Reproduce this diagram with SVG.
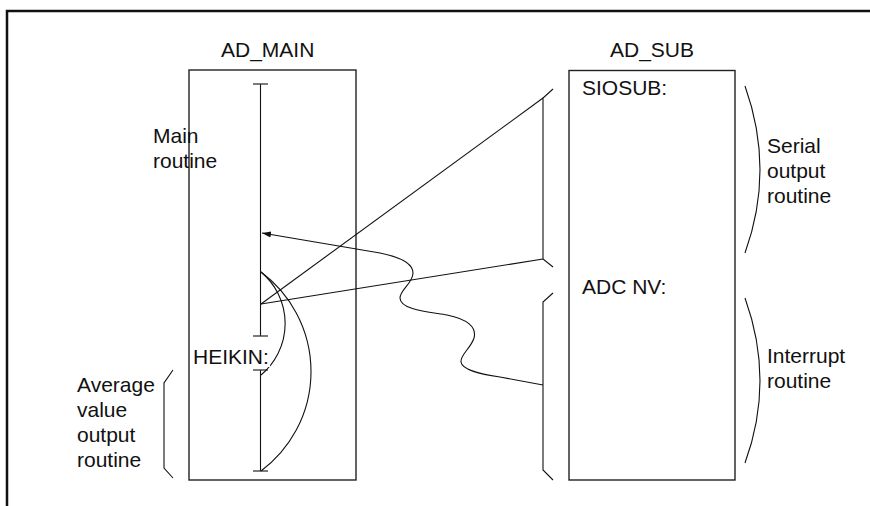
<svg xmlns="http://www.w3.org/2000/svg" width="870" height="506" viewBox="0 0 870 506">
<defs>
<style>
text{font-family:"Liberation Sans",Arial,sans-serif;font-size:21px;fill:#111}
.box{fill:#fff;stroke:#222;stroke-width:1.4}
.ln{fill:none;stroke:#111;stroke-width:1.1}
.tk{stroke:#333;stroke-width:1.3}
</style>
<marker id="ah" viewBox="0 0 10 10" refX="10" refY="5" markerWidth="9" markerHeight="9" markerUnits="userSpaceOnUse" orient="auto">
<path d="M0,1.5 L10,5 L0,8.5 Z" fill="#111"/>
</marker>
</defs>
<rect width="870" height="506" fill="#fff"/>
<path d="M7,506 V11 H870" fill="none" stroke="#111" stroke-width="2.5"/>

<g id="ad_main">
<text x="221" y="57">AD_MAIN</text>
<rect class="box" x="189" y="70" width="167" height="410"/>
</g>
<g id="ad_sub">
<text x="610" y="57">AD_SUB</text>
<rect class="box" x="569" y="70.5" width="166" height="409.5"/>
<text x="582" y="95">SIOSUB:</text>
<text x="582" y="294">ADC NV:</text>
</g>

<g id="main_routine">
<line class="ln" x1="260.5" y1="84" x2="260.5" y2="336"/>
<line class="tk" x1="253" y1="84" x2="268" y2="84"/>
<line class="tk" x1="253" y1="336" x2="268" y2="336"/>
<text x="153" y="143">Main</text>
<text x="153" y="168">routine</text>
</g>

<g id="heikin">
<line class="ln" x1="260.5" y1="370" x2="260.5" y2="471"/>
<line class="tk" x1="253" y1="370" x2="268" y2="370"/>
<line class="tk" x1="253" y1="471" x2="268" y2="471"/>
</g>

<g id="connectors">
<path class="ln" d="M261,272 A67,67 0 0 1 261,375"/>
<path class="ln" d="M261,272 A124,124 0 0 1 261,471"/>
<line class="ln" x1="261" y1="304" x2="543" y2="98"/>
<line class="ln" x1="261" y1="304" x2="543" y2="259"/>
<path class="ln" d="M543,385 L500,377 C480,374 462,370 461,362 C460,355 471,348 474,338 C477,327 467,319 447,315 C430,312 400,310 400,298 C400,290 413,283 413,273 C413,263 400,257 380,253 L262,233" marker-end="url(#ah)"/>
<polyline class="ln" points="553,89 543,98 543,259 553,267"/>
<polyline class="ln" points="553,293 543,302 543,470 553,480"/>
<polyline class="ln" points="173,370 164,383 164,468 173,478"/>
<path class="ln" d="M745,86 Q775,170 745,253"/>
<path class="ln" d="M745,298 Q775,381 745,463"/>
</g>

<g id="heikin_label">
<rect x="192" y="341" width="78" height="26" fill="#fff"/>
<text x="193" y="364">HEIKIN:</text>
</g>

<g id="labels">
<text x="767" y="153">Serial</text>
<text x="767" y="178">output</text>
<text x="767" y="203">routine</text>
<text x="767" y="363">Interrupt</text>
<text x="767" y="388">routine</text>
<text x="77" y="392">Average</text>
<text x="77" y="417">value</text>
<text x="77" y="442">output</text>
<text x="77" y="467">routine</text>
</g>
</svg>
